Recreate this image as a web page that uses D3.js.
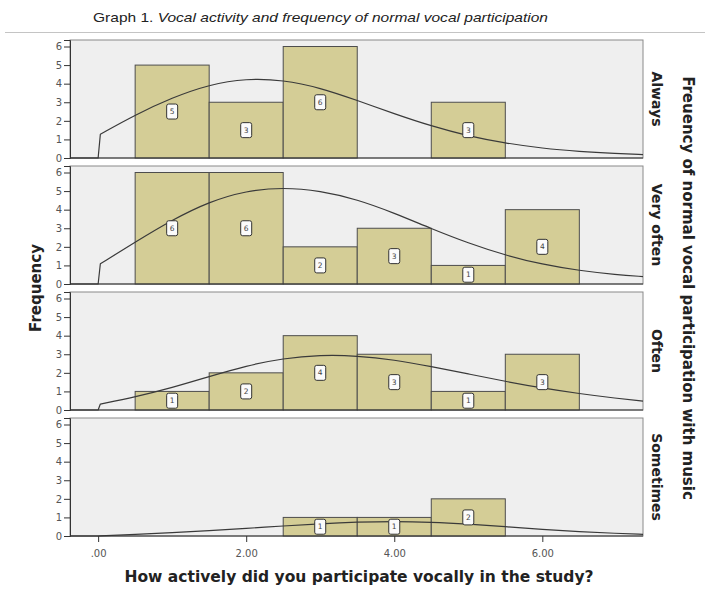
<!DOCTYPE html>
<html>
<head>
<meta charset="utf-8">
<script src="https://cdn.jsdelivr.net/npm/d3@7/dist/d3.min.js"></script>
<style>
  html, body { margin: 0; padding: 0; background: #ffffff; }
  svg { display: block; }
</style>
</head>
<body>
<svg id="chart" width="705" height="589"></svg>
<script>
// ---------- data ----------
const binCenters = [1, 2, 3, 4, 5, 6];
const groups = ["Always", "Very often", "Often", "Sometimes"];
const alwaysCounts = [5, 3, 6, 0, 3, 0];
const veryOftenCounts = [6, 6, 2, 3, 1, 4];
const oftenCounts = [1, 2, 4, 3, 1, 3];
const sometimesCounts = [0, 0, 1, 1, 2, 0];
// normal-curve heights
const curveX = [0.03, 0.5, 1.0, 1.5, 2.0, 2.5, 3.0, 3.5, 4.0, 4.5, 5.0, 5.5, 6.0, 6.5, 7.0, 7.36];
const alwaysCurve = [1.28, 2.32, 3.25, 3.95, 4.28, 4.20, 3.78, 3.10, 2.38, 1.72, 1.18, 0.80, 0.52, 0.35, 0.24, 0.18];
const veryOftenCurve = [1.09, 2.25, 3.45, 4.43, 5.02, 5.20, 5.02, 4.55, 3.82, 2.98, 2.20, 1.55, 1.05, 0.72, 0.50, 0.40];
const oftenCurve = [0.32, 0.70, 1.20, 1.80, 2.38, 2.78, 2.96, 2.92, 2.70, 2.34, 1.94, 1.54, 1.18, 0.88, 0.63, 0.48];
const sometimesCurve = [0.01, 0.09, 0.18, 0.29, 0.41, 0.54, 0.66, 0.75, 0.79, 0.75, 0.64, 0.50, 0.36, 0.23, 0.14, 0.09];
const yTicks = [0, 1, 2, 3, 4, 5, 6];
const xTicks = [0, 2, 4, 6];
const xTickLabels = [".00", "2.00", "4.00", "6.00"];
const titlePrefix = "Graph 1. ";
const titleItalic = "Vocal activity and frequency of normal vocal participation";
const xTitle = "How actively did you participate vocally in the study?";
const yTitle = "Frequency";
const rightTitle = "Freuency of normal vocal participation with music";

const countsByGroup = [alwaysCounts, veryOftenCounts, oftenCounts, sometimesCounts];
const curvesByGroup = [alwaysCurve, veryOftenCurve, oftenCurve, sometimesCurve];

// ---------- layout ----------
const svg = d3.select("#chart");
const plotLeft = 70, plotRight = 643;
const panelTop0 = 40, panelH = 118, panelStep = 126;
const binWidth = 1;

const x = d3.scaleLinear().domain([-0.38, 7.36]).range([plotLeft, plotRight]);
const y = d3.scaleLinear().domain([0, 6.35]).range([panelH, 0]);

const barFill = "#d4cd96", barStroke = "#4d4d4d";
const bgFill = "#efefef";
const tickColor = "#555";
const bold = "'DejaVu Sans', Verdana, sans-serif";

// title
const title = svg.append("text")
  .attr("x", 93).attr("y", 22)
  .attr("font-family", "'Liberation Sans Narrow','Arial Narrow','Liberation Sans',Arial,sans-serif")
  .attr("font-size", 13.5)
  .attr("fill", "#222");
title.append("tspan").text(titlePrefix);
title.append("tspan").attr("font-style", "italic").text(titleItalic);
title.attr("textLength", 455).attr("lengthAdjust", "spacingAndGlyphs");

svg.append("line")
  .attr("x1", 5).attr("x2", 705).attr("y1", 32.5).attr("y2", 32.5)
  .attr("stroke", "#c4c4c4").attr("stroke-width", 1);

groups.forEach((g, i) => {
  const top = panelTop0 + i * panelStep;
  const panel = svg.append("g").attr("transform", `translate(0,${top})`);
  const counts = countsByGroup[i];

  panel.append("rect")
    .attr("x", plotLeft).attr("y", 0)
    .attr("width", plotRight - plotLeft).attr("height", panelH)
    .attr("fill", bgFill).attr("stroke", "#8a8a8a").attr("stroke-width", 1);

  // bars
  const barData = binCenters.map((c, k) => ({ c, n: counts[k] })).filter(d => d.n > 0);
  panel.selectAll("rect.bar").data(barData).enter().append("rect")
    .attr("class", "bar")
    .attr("x", d => x(d.c - binWidth / 2))
    .attr("y", d => y(d.n))
    .attr("width", d => x(d.c + binWidth / 2) - x(d.c - binWidth / 2))
    .attr("height", d => y(0) - y(d.n))
    .attr("fill", barFill).attr("stroke", barStroke).attr("stroke-width", 1);

  // normal curve: baseline up to x=0, then the smooth fitted curve
  const curvePts = curveX.map((cx, k) => [cx, curvesByGroup[i][k]]);
  const straight = d3.line().x(d => x(d[0])).y(d => y(d[1]));
  const smooth = d3.line().x(d => x(d[0])).y(d => y(d[1])).curve(d3.curveBasis);
  const basePts = [[x.domain()[0], 0], [0, 0], curvePts[0]];
  const p1 = straight(basePts);
  const p2 = smooth([curvePts[0]].concat(curvePts));
  panel.append("path").attr("d", p1 + p2.replace(/^M[^A-Za-z]*/, m => "L" + m.slice(1)))
    .attr("fill", "none").attr("stroke", "#3a3a3a").attr("stroke-width", 1.2)
    .attr("stroke-linejoin", "round");

  // count labels
  const lab = panel.selectAll("g.lab").data(barData).enter().append("g")
    .attr("class", "lab")
    .attr("transform", d => `translate(${x(d.c)},${y(d.n / 2)})`);
  lab.append("rect")
    .attr("x", -5.5).attr("y", -7.5).attr("width", 11).attr("height", 15)
    .attr("rx", 2)
    .attr("fill", "#fbfbfb").attr("stroke", "#333").attr("stroke-width", 1);
  lab.append("text")
    .attr("text-anchor", "middle").attr("dy", "0.35em")
    .attr("font-family", "'DejaVu Sans', sans-serif").attr("font-size", 7.5)
    .attr("fill", "#444")
    .text(d => d.n);

  // y axis
  const yAxis = d3.axisLeft(y).tickValues(yTicks).tickSize(6).tickPadding(2).tickFormat(d3.format("d"));
  const ya = panel.append("g").attr("transform", `translate(${plotLeft},0)`).call(yAxis);
  ya.select(".domain").attr("stroke", "#333");
  ya.selectAll(".tick line").attr("stroke", "#333");
  ya.selectAll(".tick text").attr("fill", tickColor).attr("font-size", 10)
    .attr("font-family", "'DejaVu Sans', sans-serif");

  // bottom axis line
  panel.append("line")
    .attr("x1", plotLeft).attr("x2", plotRight).attr("y1", panelH).attr("y2", panelH)
    .attr("stroke", "#333").attr("stroke-width", 1);

  // panel label on right
  panel.append("text")
    .attr("transform", `translate(652,${panelH / 2}) rotate(90)`)
    .attr("text-anchor", "middle")
    .attr("font-family", bold).attr("font-weight", "bold").attr("font-size", 14)
    .attr("fill", "#222")
    .text(g);

  if (i === groups.length - 1) {
    const xAxis = d3.axisBottom(x).tickValues(xTicks).tickSize(6).tickPadding(8)
      .tickFormat((d, k) => xTickLabels[k]);
    const xa = panel.append("g").attr("transform", `translate(0,${panelH})`).call(xAxis);
    xa.select(".domain").remove();
    xa.selectAll(".tick line").attr("stroke", "#333");
    xa.selectAll(".tick text").attr("fill", tickColor).attr("font-size", 10)
      .attr("font-family", "'DejaVu Sans', sans-serif");
  }
});

const midY = panelTop0 + (3 * panelStep + panelH) / 2;

svg.append("text")
  .attr("transform", `translate(41,${midY}) rotate(-90)`)
  .attr("text-anchor", "middle")
  .attr("font-family", bold).attr("font-weight", "bold").attr("font-size", 15)
  .attr("fill", "#222")
  .text(yTitle);

svg.append("text")
  .attr("transform", `translate(683,${midY}) rotate(90)`)
  .attr("text-anchor", "middle")
  .attr("font-family", bold).attr("font-weight", "bold").attr("font-size", 15)
  .attr("fill", "#222")
  .text(rightTitle);

svg.append("text")
  .attr("x", 359).attr("y", 582)
  .attr("text-anchor", "middle")
  .attr("font-family", bold).attr("font-weight", "bold").attr("font-size", 15.5)
  .attr("fill", "#222")
  .text(xTitle);
</script>
</body>
</html>
